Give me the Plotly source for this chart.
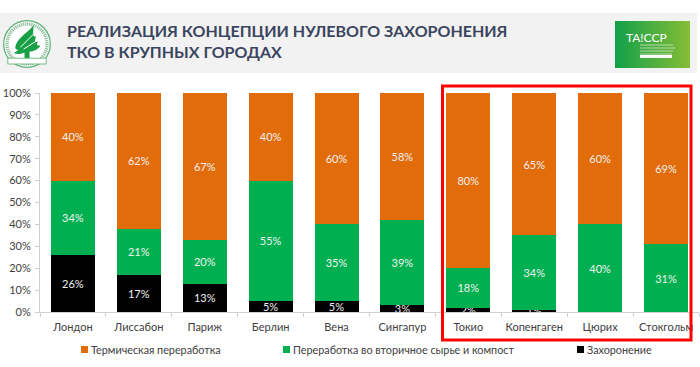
import base64
import plotly.graph_objects as go

W, H = 700, 367
L, R, T, B = 40, 699, 93, 312

categories = ["Лондон", "Лиссабон", "Париж", "Берлин", "Вена", "Сингапур",
              "Токио", "Копенгаген", "Цюрих", "Стокгольм"]
landfill = [26, 17, 13, 5, 5, 3, 2, 1, 0, 0]
recycling = [34, 21, 20, 55, 35, 39, 18, 34, 40, 31]
thermal = [40, 62, 67, 40, 60, 58, 80, 65, 60, 69]
y_ticks = [0, 10, 20, 30, 40, 50, 60, 70, 80, 90, 100]
title_text = "РЕАЛИЗАЦИЯ КОНЦЕПЦИИ НУЛЕВОГО ЗАХОРОНЕНИЯ<br>ТКО В КРУПНЫХ ГОРОДАХ"
names = ["Термическая переработка", "Переработка во вторичное сырье и компост", "Захоронение"]

ORANGE, GREEN, BLACK = "#E36C0A", "#00B050", "#000000"
FONT = "Lato"


def px(x):
    return (x - L) / (R - L)


def py(y):
    return (B - y) / (B - T)


def labels(vals):
    return [f"{v}%" if v > 0 else "" for v in vals]


fig = go.Figure()
for vals, col, nm in [(landfill, BLACK, names[2]),
                      (recycling, GREEN, names[1]),
                      (thermal, ORANGE, names[0])]:
    fig.add_bar(x=categories, y=vals, name=nm, showlegend=False,
                marker=dict(color=col, line=dict(width=0)),
                text=labels(vals), textposition="inside", insidetextanchor="middle",
                constraintext="none", textangle=0,
                textfont=dict(color="#F0F0F0", size=11, family=FONT))

shapes = [
    dict(type="rect", xref="paper", yref="paper", x0=px(0), x1=px(697), y0=py(73), y1=py(13),
         fillcolor="#F2F2F2", line_width=0, layer="below"),
    dict(type="rect", xref="paper", yref="paper", x0=px(442.5), x1=px(691), y0=py(340), y1=py(86),
         fillcolor="rgba(0,0,0,0)", line=dict(color="#FF0000", width=3), layer="above"),
]

logo_svg = """<svg xmlns='http://www.w3.org/2000/svg' width='50' height='50' viewBox='0 0 60 60'>
<circle cx='30' cy='30' r='28' fill='white' stroke='#5DB075' stroke-width='1.5'/>
<circle cx='30' cy='30' r='24' fill='white' stroke='#8FBF9F' stroke-width='4' stroke-dasharray='1.5 1'/>
<path d='M38 7 C32 16 22 20 17 30 C15 35 16 37 20 37 L14 41 C22 43 26 41 27 40 L27 47 L20 50 L40 50 L33 47 L33 39 C38 39 44 36 46 32 C42 32 41 31 43 27 C39 28 39 26 41 21 C37 22 37 19 38 7 Z' fill='#18A045'/>
<path d='M22 34 L38 18 M26 36 L42 26' stroke='white' stroke-width='1.2'/>
<rect x='7' y='47' width='46' height='7' fill='white' stroke='#5DB075' stroke-width='1'/>
</svg>"""
card_svg = """<svg xmlns='http://www.w3.org/2000/svg' width='75' height='47' viewBox='0 0 75 47'>
<defs><linearGradient id='g' x1='0' x2='1' y1='0' y2='0'><stop offset='0' stop-color='#12A04B'/><stop offset='1' stop-color='#86BD35'/></linearGradient></defs>
<rect width='75' height='47' fill='url(#g)'/>
<g stroke='#CFE8C8' stroke-width='0.8'><path d='M25 24H58M25 27H60M25 30H58M25 33H57'/></g>
<rect x='25' y='34' width='32' height='3' fill='white'/>
</svg>"""


def uri(svg):
    return "data:image/svg+xml;base64," + base64.b64encode(svg.encode()).decode()


images = [
    dict(source=uri(logo_svg), xref="paper", yref="paper", x=px(2), y=py(19), sizex=50 / (R - L), sizey=50 / (B - T),
         xanchor="left", yanchor="top", sizing="stretch", layer="above"),
    dict(source=uri(card_svg), xref="paper", yref="paper", x=px(615), y=py(21), sizex=75 / (R - L), sizey=47 / (B - T),
         xanchor="left", yanchor="top", sizing="stretch", layer="above"),
]

annotations = [
    dict(text=title_text, xref="paper", yref="paper", x=px(65), y=py(41), xanchor="left", yanchor="middle",
         align="left", showarrow=False,
         font=dict(family=FONT, size=16, color="#3B4560", weight="bold")),
    dict(text="ТА!ССР", xref="paper", yref="paper", x=px(624), y=py(37), xanchor="left", yanchor="middle",
         showarrow=False, font=dict(family=FONT, size=12, color="white")),
]

for nm, col, sx in zip(names, [ORANGE, GREEN, BLACK], [81, 283, 577]):
    shapes.append(dict(type="rect", xref="paper", yref="paper", x0=px(sx), x1=px(sx + 7), y0=py(353), y1=py(346),
                       fillcolor=col, line_width=0))
    annotations.append(dict(text=nm, xref="paper", yref="paper", x=px(sx + 8), y=py(349.5), xanchor="left",
                            yanchor="middle", showarrow=False, font=dict(family=FONT, size=10.8, color="#404040")))

fig.update_layout(
    width=W, height=H, autosize=False, barmode="stack", bargap=1 / 3,
    margin=dict(l=L, r=W - R, t=T, b=H - B, pad=0),
    paper_bgcolor="white", plot_bgcolor="white", showlegend=False,
    font=dict(family=FONT, size=11, color="#404040"),
    shapes=shapes, images=images, annotations=annotations,
    xaxis=dict(type="category", tickson="boundaries", ticks="outside", ticklen=4, tickcolor="#D0D0D0",
               linecolor="#D0D0D0", linewidth=1, showgrid=False, tickangle=0, automargin=False,
               ticklabelstandoff=5, tickfont=dict(size=11, color="#404040")),
    yaxis=dict(range=[0, 100], tickvals=y_ticks, ticktext=[f"{v}%" for v in y_ticks], ticks="outside",
               ticklen=4, tickcolor="#D0D0D0", linecolor="#D0D0D0", linewidth=1, showline=True, automargin=False,
               ticklabelstandoff=2, showgrid=False, zeroline=False, tickfont=dict(size=11, color="#404040")),
)
fig.write_html("out.html", config={"displayModeBar": False},
               post_script="document.body.style.margin='0';document.documentElement.style.overflow='hidden';")
